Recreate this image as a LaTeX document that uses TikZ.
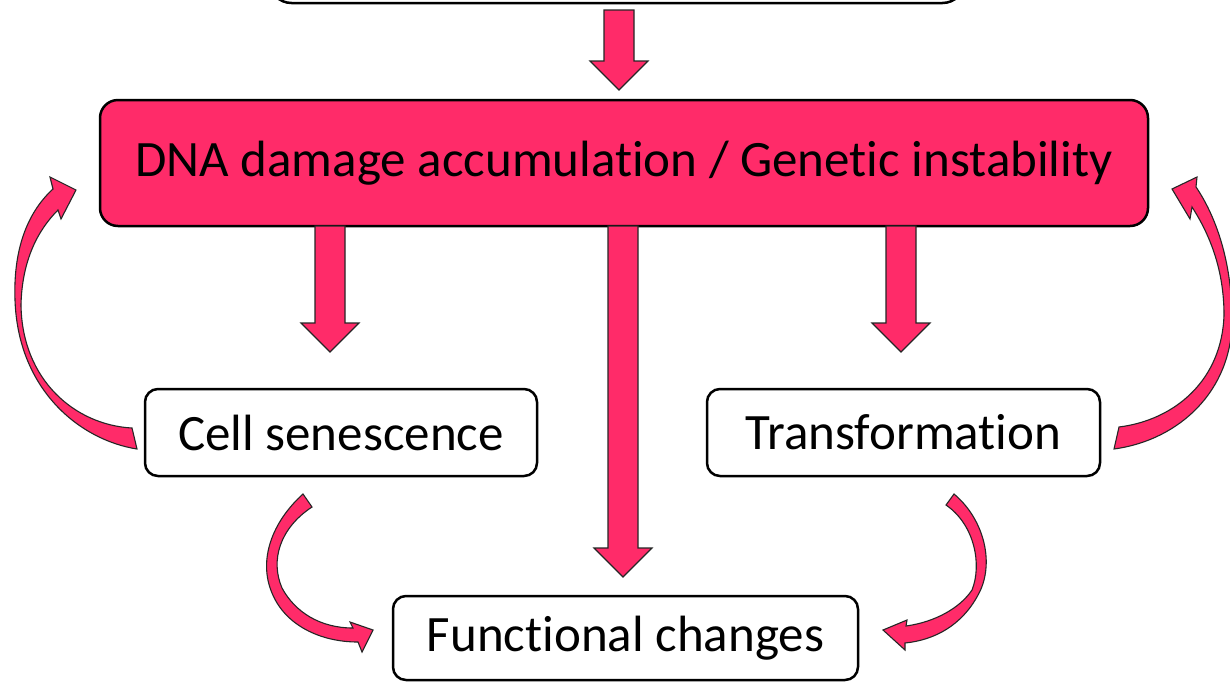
\documentclass[tikz,border=0pt]{standalone}
\usepackage{fontspec}
\setmainfont{Carlito}[Ligatures={NoCommon,NoRare,NoContextual}]
\definecolor{pinkred}{HTML}{FF2B69}
\tikzset{
  box/.style={draw=black, line width=2.5pt, rounded corners=13pt, fill=white, inner sep=0pt,
              font=\fontsize{51}{61}\selectfont, text=black},
  mainbox/.style={box, fill=pinkred, rounded corners=18pt},
  arrowshape/.style={fill=pinkred, draw=black!85, line width=1.1pt, line join=miter},
}
\newcommand\blockarrow[3]{%
  \filldraw[arrowshape] (#1-15,#2) -- (#1+15,#2) -- (#1+15,#3-29) -- (#1+29,#3-29) -- (#1,#3)
     -- (#1-29,#3-29) -- (#1-15,#3-29) -- cycle;}
\begin{document}
\begin{tikzpicture}[x=1pt,y=-1pt]
\useasboundingbox (0,0) rectangle (1230,681);
\clip (0,0) rectangle (1230,681);
\fill[white] (0,0) rectangle (1230,681);
% nodes
\node[box, minimum width=695pt, minimum height=106pt, rounded corners=22pt] (top) at (617,-50) {};
\node[mainbox, minimum width=1048pt, minimum height=126pt] (main) at (624,163) {DNA damage accumulation / Genetic instability};
\node[box, minimum width=392pt, minimum height=87pt] (sen) at (341,432.5) {Cell senescence};
\node[box, minimum width=393pt, minimum height=87pt] (trans) at (903.5,432.5) {Transformation};
\node[box, minimum width=465pt, minimum height=84pt] (func) at (625.5,638) {Functional changes};
% straight block arrows
\blockarrow{619}{10}{90}
\blockarrow{330}{226}{352}
\blockarrow{623}{226}{577}
\blockarrow{901}{226}{352}
% curved arrow: Cell senescence -> DNA damage (left)
\filldraw[arrowshape] (137,449) .. controls (80,440) and (18,390) .. (15,300)
  .. controls (13,245) and (30,210) .. (53,189)
  -- (50,177) -- (76,190) -- (61,219) -- (58,210)
  .. controls (38,230) and (22,260) .. (21,305)
  .. controls (22,380) and (75,425) .. (132,428) -- cycle;
% curved arrow: Transformation -> DNA damage (right)
\filldraw[arrowshape] (1114,449) .. controls (1180,440) and (1232,390) .. (1232,320)
  .. controls (1232,260) and (1215,215) .. (1196,187)
  -- (1197,177) -- (1172,189) -- (1190,219) -- (1192,207)
  .. controls (1210,235) and (1224,270) .. (1224,315)
  .. controls (1222,380) and (1175,420) .. (1119,427) -- cycle;
% curved arrow: Cell senescence -> Functional changes
\filldraw[arrowshape] (303,494) .. controls (272,522) and (258,560) .. (272,593)
  .. controls (285,625) and (320,642) .. (358,642)
  -- (362,652) -- (373,630) -- (350,622) -- (353,628)
  .. controls (320,628) and (295,612) .. (282,588)
  .. controls (270,560) and (280,528) .. (312,507) -- cycle;
% curved arrow: Transformation -> Functional changes
\filldraw[arrowshape] (954,494) .. controls (985,520) and (995,565) .. (978,595)
  .. controls (962,625) and (935,640) .. (905,643)
  -- (905,650) -- (883,630) -- (907,620) -- (906,626)
  .. controls (935,622) and (960,608) .. (972,590)
  .. controls (982,565) and (975,525) .. (946,505) -- cycle;
\end{tikzpicture}
\end{document}
